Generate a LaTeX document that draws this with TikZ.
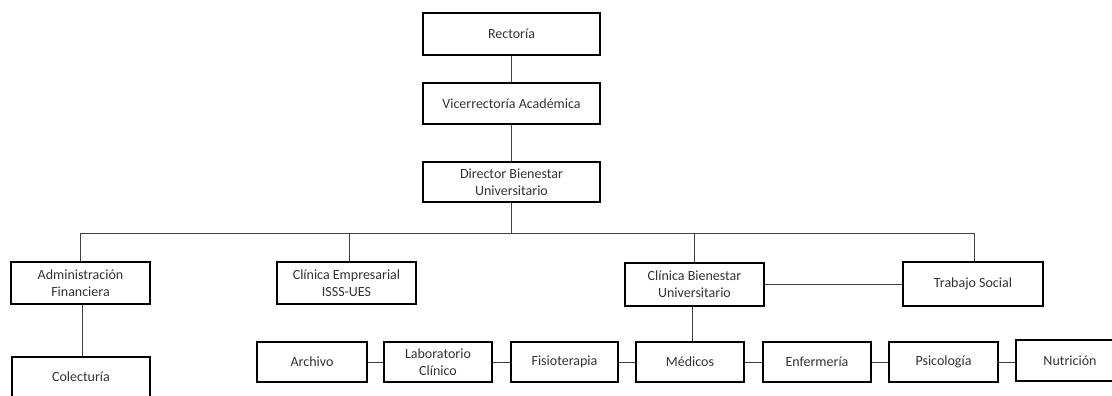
\documentclass[tikz,border=0pt]{standalone}
\usepackage{fontspec}
\setmainfont{Carlito}
\begin{document}
\begin{tikzpicture}[x=1pt,y=1pt,
  box/.style={draw=black, line width=1.6pt, fill=white, align=center, inner sep=0pt,
    font=\fontsize{14}{17}\selectfont, text=black!80},
  conn/.style={draw=black!75, line width=1pt}]
\useasboundingbox (0,0) rectangle (1112,-396);
\clip (0,0) rectangle (1112,-396);
\fill[white] (0,0) rectangle (1112,-396);
% boxes
\node[box, minimum width=177, minimum height=42] (rect) at (511.5,-34) {Rectoría};
\node[box, minimum width=177, minimum height=41] (vice) at (511.5,-103.5) {Vicerrectoría Académica};
\node[box, minimum width=177, minimum height=40] (dir) at (511.5,-182) {Director Bienestar\\Universitario};
\node[box, minimum width=139, minimum height=42] (admin) at (80.5,-283) {Administración\\Financiera};
\node[box, minimum width=138, minimum height=60, anchor=north] (colect) at (81,-356) {};
\node[font=\fontsize{14}{17}\selectfont, text=black!80] (colectt) at (81,-377) {Colecturía};
\node[box, minimum width=139, minimum height=42] (cemp) at (346.5,-283) {Clínica Empresarial\\ISSS-UES};
\node[box, minimum width=139, minimum height=43] (cbien) at (694.5,-284.5) {Clínica Bienestar\\Universitario};
\node[box, minimum width=140, minimum height=44] (trab) at (973,-284) {Trabajo Social};
\node[box, minimum width=110, minimum height=40] (arch) at (312,-362) {Archivo};
\node[box, minimum width=108, minimum height=40] (lab) at (438,-362) {Laboratorio\\Clínico};
\node[box, minimum width=107, minimum height=40] (fisio) at (564.5,-362) {Fisioterapia};
\node[box, minimum width=108, minimum height=40] (med) at (690,-362) {Médicos};
\node[box, minimum width=108, minimum height=40] (enf) at (817,-362) {Enfermería};
\node[box, minimum width=109, minimum height=40] (psic) at (943.5,-362) {Psicología};
\node[box, minimum width=108, minimum height=41] (nutr) at (1070,-360.5) {Nutrición};
% connectors
\coordinate (bus) at (0,-233);
\draw[conn] (rect.south) -- (vice.north);
\draw[conn] (vice.south) -- (dir.north);
\draw[conn] (dir.south) -- (dir.south |- bus);
\draw[conn] (admin.north) -- (admin.north |- bus) -- ([xshift=1pt]trab.north |- bus) -- ([xshift=1pt]trab.north);
\draw[conn] ([xshift=2.5pt]cemp.north) -- ([xshift=2.5pt]cemp.north |- bus);
\draw[conn] (cbien.north) -- (cbien.north |- bus);
\draw[conn] ([xshift=1.5pt]admin.south) -- ([xshift=1.5pt]admin.south |- colect.north);
\draw[conn] (cbien.east) -- (cbien.east -| trab.west);
\draw[conn] ([xshift=-2.5pt]cbien.south) -- ([xshift=-2.5pt]cbien.south |- med.north);
\draw[conn] (arch.east) -- (lab.west);
\draw[conn] (lab.east) -- (fisio.west);
\draw[conn] (fisio.east) -- (med.west);
\draw[conn] (med.east) -- (enf.west);
\draw[conn] (enf.east) -- (psic.west);
\draw[conn] (psic.east) -- (psic.east -| nutr.west);
\end{tikzpicture}
\end{document}
